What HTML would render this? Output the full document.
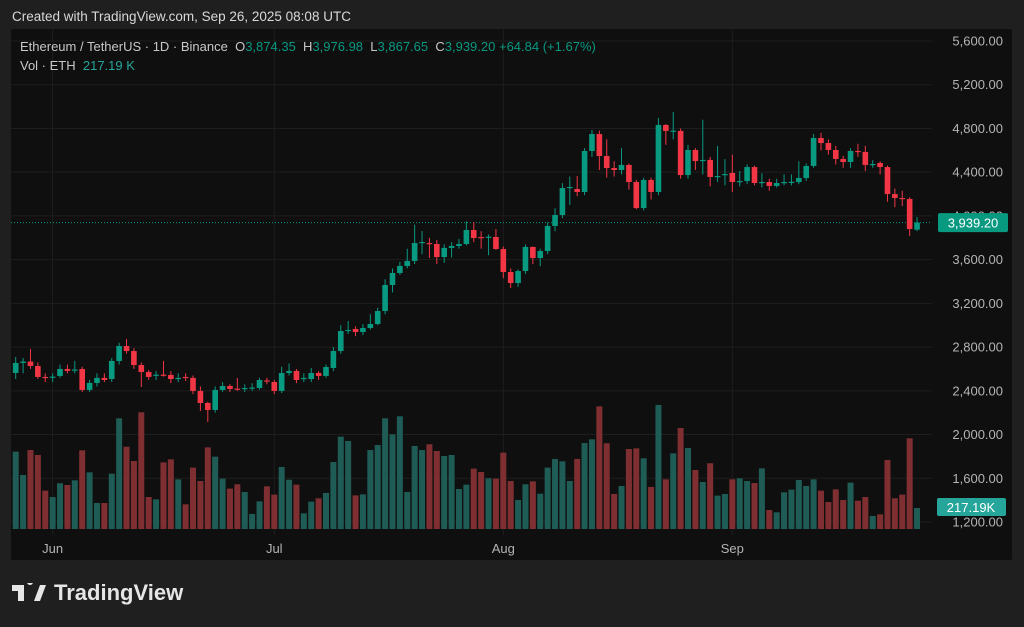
<!DOCTYPE html>
<html><head><meta charset="utf-8">
<style>
html,body{margin:0;padding:0;background:#1f1f1f;width:1024px;height:627px;overflow:hidden;font-family:"Liberation Sans",sans-serif;}
#created{position:absolute;left:12px;top:9px;color:#d8d8d8;font-size:13.5px;}
#panel{position:absolute;left:11px;top:29px;width:1001px;height:531px;background:#0f0f0f;border-radius:2px;}
svg{position:absolute;left:0;top:0;}
#logo{position:absolute;left:12px;top:580px;color:#e6e6e6;font-size:22px;font-weight:bold;display:flex;align-items:center;gap:8px;}
</style></head><body>
<div id="created">Created with TradingView.com, Sep 26, 2025 08:08 UTC</div>
<div id="panel"></div>
<svg id="chart" width="1024" height="627"></svg>
<div id="logo">
<svg width="34" height="20" style="position:static"><path d="M0 2h12v16h-6v-10h-6z M18 2a3 3 0 1 1 0.01 0z M22 18l6-16h6l-6 16z" fill="#e6e6e6"/></svg><span>TradingView</span></div>
<script>
const opens=[2563,2655,2668,2627,2527,2520,2536,2600,2590,2600,2408,2472,2518,2508,2673,2810,2764,2636,2572,2540,2548,2545,2510,2527,2518,2399,2289,2225,2408,2444,2420,2420,2426,2426,2495,2481,2399,2563,2582,2510,2508,2563,2536,2609,2764,2950,2966,2938,2975,3011,3130,3368,3478,3542,3588,3755,3752,3743,3624,3707,3725,3743,3871,3807,3800,3807,3697,3487,3386,3496,3716,3615,3679,3908,4008,4262,4246,4219,4594,4749,4548,4438,4420,4466,4310,4072,4329,4219,4832,4777,4777,4374,4603,4505,4512,4360,4380,4393,4315,4319,4447,4305,4310,4274,4305,4308,4310,4347,4457,4713,4667,4603,4521,4493,4594,4585,4470,4484,4447,4200,4164,4155,3874];
const closes=[2655,2668,2627,2527,2520,2530,2600,2582,2595,2408,2472,2518,2499,2673,2810,2764,2636,2572,2527,2548,2540,2508,2518,2522,2399,2289,2225,2408,2444,2417,2415,2426,2430,2499,2490,2399,2563,2582,2499,2518,2563,2536,2618,2764,2947,2957,2938,2975,3011,3130,3368,3478,3542,3588,3752,3761,3743,3624,3707,3725,3743,3871,3798,3800,3810,3697,3487,3386,3496,3716,3615,3679,3908,4008,4255,4265,4219,4594,4749,4548,4438,4420,4466,4310,4072,4329,4219,4832,4777,4780,4374,4603,4502,4512,4356,4365,4383,4310,4319,4447,4301,4310,4274,4301,4310,4312,4347,4457,4713,4667,4603,4521,4493,4594,4590,4466,4475,4447,4200,4164,4160,3880,3939];
const highs=[2710,2700,2783,2660,2560,2560,2640,2640,2673,2620,2500,2560,2560,2700,2840,2875,2790,2660,2590,2580,2673,2580,2560,2560,2540,2440,2300,2440,2480,2460,2518,2460,2470,2520,2520,2500,2620,2650,2600,2560,2610,2580,2640,2800,3000,3039,2990,3010,3100,3160,3420,3520,3580,3700,3920,3862,3800,3780,3740,3760,3790,3950,3944,3860,3830,3880,3720,3520,3510,3740,3720,3700,3940,4070,4300,4360,4365,4620,4786,4780,4700,4500,4620,4480,4330,4350,4350,4896,4840,4951,4800,4650,4620,4880,4540,4640,4520,4560,4410,4470,4460,4390,4340,4340,4380,4380,4500,4480,4749,4760,4700,4640,4550,4620,4660,4640,4510,4500,4460,4250,4230,4170,3990];
const lows=[2508,2560,2600,2510,2480,2480,2520,2560,2560,2390,2390,2440,2480,2480,2640,2740,2600,2435,2500,2500,2530,2470,2480,2490,2370,2216,2115,2200,2390,2390,2400,2390,2400,2410,2460,2370,2380,2540,2470,2480,2480,2500,2520,2580,2740,2920,2900,2910,2960,3000,3100,3300,3460,3520,3560,3650,3615,3560,3570,3620,3700,3730,3760,3700,3640,3690,3430,3340,3350,3470,3560,3540,3650,3860,3980,4100,4180,4190,4540,4420,4350,4360,4380,4240,4060,4050,4150,4190,4650,4700,4340,4340,4420,4380,4270,4310,4280,4219,4270,4290,4280,4260,4230,4260,4280,4280,4290,4320,4440,4600,4560,4470,4440,4440,4540,4410,4440,4380,4130,4080,4090,3816,3860];
const volumes=[839,586,857,803,416,347,496,477,528,854,615,282,282,600,1201,893,738,1266,347,322,723,756,539,268,666,521,886,785,546,438,485,401,163,300,463,373,673,535,481,170,297,333,391,727,1002,955,365,376,857,911,1201,1027,1223,401,901,857,919,846,792,803,434,481,655,619,550,546,828,521,315,485,517,383,666,760,734,521,760,933,973,1331,930,380,467,868,875,767,456,1346,539,821,1096,879,640,510,713,362,380,539,550,521,499,658,206,181,398,427,532,467,539,416,293,430,315,503,307,347,141,159,749,333,373,984,228];
const priceTicks=[5600,5200,4800,4400,4000,3600,3200,2800,2400,2000,1600,1200];
const monthLabels=["Jun","Jul","Aug","Sep"];
const monthIndex=[5,35,66,97];

const svg=document.getElementById('chart');
const NS='http://www.w3.org/2000/svg';
function el(t,a){const e=document.createElementNS(NS,t);for(const k in a)e.setAttribute(k,a[k]);svg.appendChild(e);return e;}
const yP=p=>41+(5600-p)*0.10932;
const xI=i=>15.7+i*7.388;
const yV=v=>529-v/10.85;
const GREEN='#089981',RED='#f23645',VG='#1f5c56',VR='#7f2f31';

priceTicks.forEach(p=>{
  const y=yP(p);
  const g=el('line',{x1:11,x2:932,y1:y,y2:y,stroke:'#1e1e1e','stroke-width':1});
  
  
  const t=el('text',{x:1003,y:y+4.5,'text-anchor':'end',fill:'#b4b4b4','font-size':'13','font-family':'Liberation Sans, sans-serif'});
  t.textContent=p.toLocaleString('en-US',{minimumFractionDigits:2});
  
  
});
monthIndex.forEach((mi,k)=>{
  const x=xI(mi);
  const g=el('line',{x1:x,x2:x,y1:29,y2:535,stroke:'#1e1e1e','stroke-width':1});
  
  
  const t=el('text',{x:x,y:553,'text-anchor':'middle',fill:'#b4b4b4','font-size':'13','font-family':'Liberation Sans, sans-serif'});
  t.textContent=monthLabels[k];
  
  
});
volumes.forEach((v,i)=>{
  const up=closes[i]>=opens[i];
  const r=el('rect',{x:xI(i)-3,y:yV(v),width:6,height:529-yV(v),fill:up?VG:VR});
  
  
});
const last=closes[closes.length-1];
const pl=el('line',{x1:11,x2:932,y1:yP(last),y2:yP(last),stroke:GREEN,'stroke-width':1,'stroke-dasharray':'1 2'});


opens.forEach((o,i)=>{
  const c=closes[i],up=c>=o,col=up?GREEN:RED,x=xI(i);
  const w=el('line',{x1:x,x2:x,y1:yP(highs[i]),y2:yP(lows[i]),stroke:col,'stroke-width':1});
  
  
  const top=yP(Math.max(o,c)),bot=yP(Math.min(o,c));
  const b=el('rect',{x:x-2.8,y:top,width:5.6,height:Math.max(1.2,bot-top),fill:col});
  
  
});
// price tag
const pt=el('rect',{x:938,y:yP(last)-9.5,width:70,height:19,rx:2,fill:GREEN});


const ptt=el('text',{x:973,y:yP(last)+5,'text-anchor':'middle',fill:'#fff','font-size':'13','font-family':'Liberation Sans, sans-serif'});
ptt.textContent=last.toLocaleString('en-US',{minimumFractionDigits:2})==='3,939.00'?'3,939.20':last.toLocaleString('en-US',{minimumFractionDigits:2});


const vt=el('rect',{x:937,y:498,width:69,height:18,rx:2,fill:'#26a69a'});


const vtt=el('text',{x:971,y:512,'text-anchor':'middle',fill:'#fff','font-size':'13','font-family':'Liberation Sans, sans-serif'});
vtt.textContent='217.19K';


// legend
function txt(x,y,s,fill,name){const t=el('text',{x:x,y:y,fill:fill,'font-size':'13','font-family':'Liberation Sans, sans-serif'});t.textContent=s;return t;}
const lg=el('text',{x:20,y:51,'font-size':'13','font-family':'Liberation Sans, sans-serif',fill:'#c8c8c8'});


lg.innerHTML='Ethereum / TetherUS · 1D · Binance  O<tspan fill="#089981">3,874.35</tspan>  H<tspan fill="#089981">3,976.98</tspan>  L<tspan fill="#089981">3,867.65</tspan>  C<tspan fill="#089981">3,939.20</tspan> <tspan fill="#089981">+64.84 (+1.67%)</tspan>';
lg.setAttribute('xml:space','preserve');lg.style.whiteSpace='pre';
const vl=el('text',{x:20,y:70,'font-size':'13','font-family':'Liberation Sans, sans-serif',fill:'#c8c8c8'});


vl.style.whiteSpace='pre';
vl.innerHTML='Vol · ETH  <tspan fill="#26a69a">217.19 K</tspan>';
</script>
</body></html>
